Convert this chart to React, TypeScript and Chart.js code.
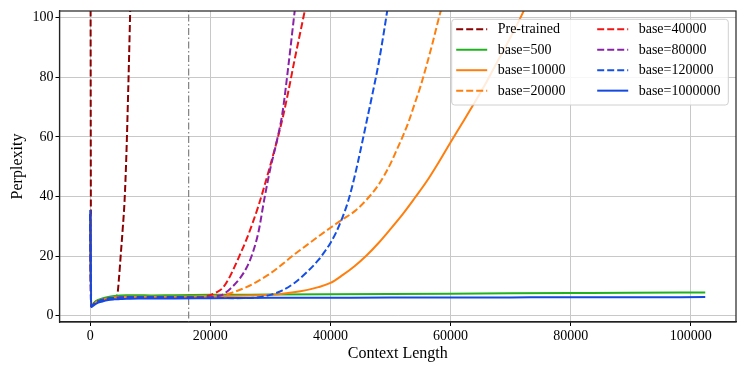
import React, { useEffect, useRef } from "react";
import { Chart, registerables } from "chart.js";

Chart.register(...registerables);

const FONT = "'Liberation Serif', 'Times New Roman', serif";

const seriesLabels = [
  "Pre-trained",
  "base=500",
  "base=10000",
  "base=20000",
  "base=40000",
  "base=80000",
  "base=120000",
  "base=1000000",
];
const seriesColors = [
  "#8b0000",
  "#1fb21f",
  "#ff7f0e",
  "#ff7f0e",
  "#f01414",
  "#8a22a8",
  "#1450e6",
  "#1448e0",
];
const seriesDashed = [true, false, false, true, true, true, true, false];

const xTicks = [0, 20000, 40000, 60000, 80000, 100000];
const yTicks = [0, 20, 40, 60, 80, 100];
const markerX = 16384;

// Pre-trained
const preX = [0, 150, 500, 1000, 2000, 3000, 4000, 4500, 4800, 5100, 5400, 5700, 6000, 6300, 6600, 6900];
const preY = [200, 3.2, 4.0, 4.8, 5.5, 5.9, 6.1, 7, 13, 21, 29, 38, 53, 74, 98, 125];

// base=500
const b500X = [0, 150, 500, 1000, 2000, 3000, 4000, 5000, 6000, 8000, 10000, 14000, 20000, 30000, 40000, 50000, 60000, 70000, 80000, 90000, 102400];
const b500Y = [33, 3.0, 4.0, 5.0, 5.8, 6.3, 6.6, 6.8, 6.9, 6.9, 6.8, 6.9, 7.0, 7.1, 7.2, 7.3, 7.4, 7.5, 7.6, 7.7, 7.8];

// base=10000
const b10kX = [0, 150, 500, 1000, 2000, 3000, 4000, 5000, 6000, 8000, 10000, 14000, 20000, 25000, 30000, 35000, 38000, 40000, 42000, 44000, 46000, 48000, 50000, 52000, 54000, 56000, 58000, 60000, 62000, 64000, 66000, 68000, 70000, 72000, 73000];
const b10kY = [34, 3.1, 3.8, 4.6, 5.4, 5.9, 6.1, 6.3, 6.4, 6.4, 6.4, 6.4, 6.5, 6.7, 7.0, 8.2, 9.6, 11, 13.6, 16.6, 20.2, 24.4, 29.1, 34, 39.4, 45, 51.4, 58.2, 64.8, 71.5, 78.5, 86, 93.5, 101.5, 106];

// base=20000
const b20kX = [0, 150, 500, 1000, 2000, 3000, 4000, 5000, 6000, 8000, 10000, 14000, 18000, 22000, 24000, 26000, 28000, 30000, 32000, 34000, 36000, 38000, 40000, 42000, 44000, 46000, 48000, 50000, 51000, 52000, 53000, 54000, 55000, 56000, 57000, 58000, 59000];
const b20kY = [34, 3.1, 3.7, 4.5, 5.3, 5.8, 6.0, 6.1, 6.2, 6.2, 6.2, 6.2, 6.3, 6.9, 8, 9.6, 11.7, 14.2, 17.3, 20.6, 23.6, 26.6, 29.5, 32.3, 35, 38.9, 43.9, 51, 55.5, 60, 65, 71, 77, 84, 91.5, 99.5, 107];

// base=40000
const b40kX = [0, 150, 500, 1000, 2000, 3000, 4000, 5000, 6000, 8000, 10000, 14000, 17000, 19000, 20000, 21000, 22000, 23000, 24000, 25000, 26000, 27000, 28000, 29000, 30000, 31000, 32000, 33000, 34000, 35000, 36000];
const b40kY = [34, 3.1, 3.7, 4.5, 5.3, 5.8, 6.0, 6.1, 6.2, 6.2, 6.2, 6.2, 6.2, 6.3, 6.9, 7.8, 9.2, 12.2, 16.3, 20.8, 25.5, 30.9, 36.8, 43.5, 50.6, 58, 66, 75.4, 85.6, 95.3, 105];

// base=80000
const b80kX = [0, 150, 500, 1000, 2000, 3000, 4000, 5000, 6000, 8000, 10000, 14000, 18000, 20000, 21000, 22000, 23000, 24000, 25000, 26000, 27000, 28000, 29000, 30000, 31000, 32000, 33000, 34000, 34500];
const b80kY = [34, 3.1, 3.7, 4.5, 5.3, 5.8, 6.0, 6.1, 6.2, 6.2, 6.2, 6.2, 6.0, 6.2, 6.5, 7.0, 8.5, 10.4, 12.8, 16, 20.8, 28, 39.3, 49.5, 58, 68, 84, 101.5, 110];

// base=120000
const b120kX = [0, 150, 500, 1000, 2000, 3000, 4000, 5000, 6000, 8000, 10000, 14000, 20000, 24000, 28000, 30000, 32000, 34000, 36000, 38000, 39000, 40000, 41000, 42000, 43000, 44000, 45000, 46000, 47000, 48000, 49000, 49500];
const b120kY = [34, 3.1, 3.7, 4.5, 5.3, 5.8, 6.0, 6.1, 6.2, 6.2, 6.2, 6.2, 6.0, 5.9, 6.2, 7, 8.5, 11, 14.5, 18.7, 21.4, 24.4, 28.2, 33, 38.8, 46.5, 55.5, 65, 74.5, 84.5, 96.5, 103];

// base=1000000
const b1mX = [0, 150, 500, 1000, 2000, 3000, 4000, 5000, 6000, 8000, 10000, 14000, 20000, 30000, 40000, 50000, 60000, 70000, 80000, 90000, 102400];
const b1mY = [35.5, 2.9, 3.4, 4.1, 4.8, 5.3, 5.5, 5.6, 5.7, 5.8, 5.8, 5.8, 5.9, 6.0, 6.05, 6.1, 6.1, 6.15, 6.2, 6.2, 6.25];

const seriesX = [preX, b500X, b10kX, b20kX, b40kX, b80kX, b120kX, b1mX];
const seriesY = [preY, b500Y, b10kY, b20kY, b40kY, b80kY, b120kY, b1mY];

const DASH = [7, 3];

const framePlugin = {
  id: "frameAndLegend",
  afterDraw(chart: any) {
    const { ctx, chartArea } = chart;
    ctx.save();
    // top/right spines
    ctx.strokeStyle = "#222";
    ctx.lineWidth = 1.2;
    ctx.setLineDash([]);
    ctx.strokeRect(chartArea.left, chartArea.top, chartArea.right - chartArea.left, chartArea.bottom - chartArea.top);

    // legend
    const bx = chartArea.right - 284.3;
    const by = chartArea.top + 8.3;
    const bw = 276.6;
    const bh = 85.7;
    const r = 3;
    ctx.beginPath();
    ctx.moveTo(bx + r, by);
    ctx.lineTo(bx + bw - r, by);
    ctx.arcTo(bx + bw, by, bx + bw, by + r, r);
    ctx.lineTo(bx + bw, by + bh - r);
    ctx.arcTo(bx + bw, by + bh, bx + bw - r, by + bh, r);
    ctx.lineTo(bx + r, by + bh);
    ctx.arcTo(bx, by + bh, bx, by + bh - r, r);
    ctx.lineTo(bx, by + r);
    ctx.arcTo(bx, by, bx + r, by, r);
    ctx.closePath();
    ctx.fillStyle = "rgba(255,255,255,0.85)";
    ctx.fill();
    ctx.strokeStyle = "#d0d0d0";
    ctx.lineWidth = 1;
    ctx.stroke();

    ctx.font = `14px ${FONT}`;
    ctx.textBaseline = "middle";
    ctx.textAlign = "left";
    for (let i = 0; i < seriesLabels.length; i++) {
      const col = Math.floor(i / 4);
      const row = i % 4;
      const hx = bx + 4.5 + col * 141;
      const hy = by + 10 + row * 20.45;
      ctx.beginPath();
      ctx.strokeStyle = seriesColors[i];
      ctx.lineWidth = 2;
      ctx.setLineDash(seriesDashed[i] ? DASH : []);
      ctx.moveTo(hx, hy);
      ctx.lineTo(hx + 31, hy);
      ctx.stroke();
      ctx.setLineDash([]);
      ctx.fillStyle = "#000";
      ctx.fillText(seriesLabels[i], hx + 41.5, hy + 0.5);
    }
    ctx.restore();
  },
};

export default function App() {
  const ref = useRef<HTMLCanvasElement | null>(null);

  useEffect(() => {
    document.body.style.margin = "0";
    const canvas = ref.current;
    if (!canvas) return;

    const datasets: any[] = seriesLabels.map((label, i) => ({
      label,
      data: seriesX[i].map((x, j) => ({ x, y: seriesY[i][j] })),
      borderColor: seriesColors[i],
      backgroundColor: seriesColors[i],
      borderWidth: 2,
      borderDash: seriesDashed[i] ? DASH : [],
      pointRadius: 0,
      fill: false,
      cubicInterpolationMode: "monotone",
      order: seriesLabels.length - i,
    }));
    datasets.push({
      label: "marker",
      data: [
        { x: markerX, y: -10 },
        { x: markerX, y: 120 },
      ],
      borderColor: "#808080",
      borderWidth: 1.2,
      borderDash: [7, 2.5, 1.5, 2.5],
      pointRadius: 0,
      fill: false,
      order: 100,
    });

    const tickFont = { family: FONT, size: 14 };
    const titleFont = { family: FONT, size: 16 };

    const chart = new Chart(canvas, {
      type: "line",
      data: { datasets },
      options: {
        animation: false,
        responsive: false,
        devicePixelRatio: 1,
        layout: { padding: { left: 0, top: 11, right: 11, bottom: 0 } },
        plugins: {
          legend: { display: false },
          tooltip: { enabled: false },
        },
        scales: {
          x: {
            type: "linear",
            min: -5120,
            max: 107520,
            afterBuildTicks: (s: any) => {
              s.ticks = xTicks.map((v) => ({ value: v }));
            },
            afterFit: (s: any) => {
              s.height = 52;
            },
            grid: { color: "#c8c8c8", lineWidth: 1, tickLength: 4, tickColor: "#000", drawTicks: true },
            border: { color: "#222", width: 1.2 },
            ticks: {
              color: "#000",
              font: tickFont,
              padding: 2,
              maxRotation: 0,
              autoSkip: false,
              callback: (v: any) => String(v),
            },
            title: {
              display: true,
              text: "Context Length",
              color: "#000",
              font: titleFont,
              padding: { top: 0, bottom: 11 },
            },
          },
          y: {
            type: "linear",
            min: -2.1,
            max: 102.2,
            afterBuildTicks: (s: any) => {
              s.ticks = yTicks.map((v) => ({ value: v }));
            },
            afterFit: (s: any) => {
              s.width = 59.5;
            },
            grid: { color: "#c8c8c8", lineWidth: 1, tickLength: 4, tickColor: "#000", drawTicks: true },
            border: { color: "#222", width: 1.2 },
            ticks: {
              color: "#000",
              font: tickFont,
              padding: 2,
              autoSkip: false,
              callback: (v: any) => String(v),
            },
            title: {
              display: true,
              text: "Perplexity",
              color: "#000",
              font: titleFont,
              padding: { top: 8.5, bottom: 0 },
            },
          },
        },
      } as any,
      plugins: [framePlugin],
    });

    return () => chart.destroy();
  }, []);

  return (
    <div style={{ width: 747, height: 374 }}>
      <canvas ref={ref} width={747} height={374} style={{ width: 747, height: 374, display: "block" }} />
    </div>
  );
}
